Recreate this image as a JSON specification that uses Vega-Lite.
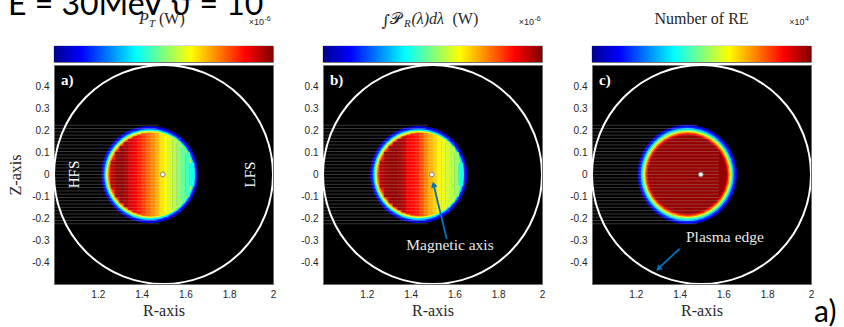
{
"$schema": "https://vega.github.io/schema/vega-lite/v6.json",
"padding": {"left": 7, "top": -12, "right": 0, "bottom": 0},
"config": {
  "font": "Liberation Sans",
  "view": {"stroke": null},
  "axis": {"labelFont": "Liberation Sans", "labelFontSize": 10, "labelColor": "#262626", "titleFont": "Liberation Serif", "titleFontSize": 16, "titleFontWeight": "normal", "titleColor": "#262626", "grid": false, "ticks": false, "domain": false, "labelFlush": false, "labelOverlap": false, "labelBound": false}
},
"datasets": {
  "cbar": [{"p": "a", "lo": 0, "hi": 2}, {"p": "b", "lo": 0, "hi": 1.476}, {"p": "c", "lo": 0, "hi": 6}],
  "rings": [
    {"p": "a", "r": 1.437, "z": 0, "rad": 0.222, "v": 0.16},
    {"p": "a", "r": 1.437, "z": 0, "rad": 0.214, "v": 0.34},
    {"p": "a", "r": 1.437, "z": 0, "rad": 0.207, "v": 0.72},
    {"p": "a", "r": 1.437, "z": 0, "rad": 0.2, "v": 1.2},
    {"p": "a", "r": 1.437, "z": 0, "rad": 0.192, "v": 1.5},
    {"p": "a", "r": 1.437, "z": 0, "rad": 0.185, "v": 1.74},
    {"p": "b", "r": 1.437, "z": 0, "rad": 0.222, "v": 0.118},
    {"p": "b", "r": 1.437, "z": 0, "rad": 0.214, "v": 0.251},
    {"p": "b", "r": 1.437, "z": 0, "rad": 0.207, "v": 0.531},
    {"p": "b", "r": 1.437, "z": 0, "rad": 0.2, "v": 0.886},
    {"p": "b", "r": 1.437, "z": 0, "rad": 0.192, "v": 1.107},
    {"p": "b", "r": 1.437, "z": 0, "rad": 0.185, "v": 1.284},
    {"p": "c", "r": 1.435, "z": 0, "rad": 0.227, "v": 0.48},
    {"p": "c", "r": 1.435, "z": 0, "rad": 0.219, "v": 1.02},
    {"p": "c", "r": 1.435, "z": 0, "rad": 0.212, "v": 1.98},
    {"p": "c", "r": 1.435, "z": 0, "rad": 0.206, "v": 2.7},
    {"p": "c", "r": 1.435, "z": 0, "rad": 0.2, "v": 3.6},
    {"p": "c", "r": 1.435, "z": 0, "rad": 0.194, "v": 4.5},
    {"p": "c", "r": 1.435, "z": 0, "rad": 0.188, "v": 5.22},
    {"p": "c", "r": 1.435, "z": 0, "rad": 0.181, "v": 5.88}
  ],
  "strips": [
    {"p": "a", "r": 1.26, "r2": 1.28, "z": -0.062, "z2": 0.062, "v": 1.9},
    {"p": "a", "r": 1.28, "r2": 1.3, "z": -0.103, "z2": 0.103, "v": 1.96},
    {"p": "a", "r": 1.3, "r2": 1.32, "z": -0.128, "z2": 0.128, "v": 1.97},
    {"p": "a", "r": 1.32, "r2": 1.34, "z": -0.147, "z2": 0.147, "v": 1.93},
    {"p": "a", "r": 1.34, "r2": 1.36, "z": -0.161, "z2": 0.161, "v": 1.82},
    {"p": "a", "r": 1.36, "r2": 1.38, "z": -0.172, "z2": 0.172, "v": 1.78},
    {"p": "a", "r": 1.38, "r2": 1.4, "z": -0.18, "z2": 0.18, "v": 1.7},
    {"p": "a", "r": 1.4, "r2": 1.42, "z": -0.185, "z2": 0.185, "v": 1.63},
    {"p": "a", "r": 1.42, "r2": 1.44, "z": -0.188, "z2": 0.188, "v": 1.55},
    {"p": "a", "r": 1.44, "r2": 1.46, "z": -0.189, "z2": 0.189, "v": 1.48},
    {"p": "a", "r": 1.46, "r2": 1.48, "z": -0.188, "z2": 0.188, "v": 1.4},
    {"p": "a", "r": 1.48, "r2": 1.5, "z": -0.185, "z2": 0.185, "v": 1.3},
    {"p": "a", "r": 1.5, "r2": 1.52, "z": -0.179, "z2": 0.179, "v": 1.25},
    {"p": "a", "r": 1.52, "r2": 1.54, "z": -0.171, "z2": 0.171, "v": 1.17},
    {"p": "a", "r": 1.54, "r2": 1.56, "z": -0.16, "z2": 0.16, "v": 1.1},
    {"p": "a", "r": 1.56, "r2": 1.58, "z": -0.146, "z2": 0.146, "v": 1.02},
    {"p": "a", "r": 1.58, "r2": 1.6, "z": -0.127, "z2": 0.127, "v": 0.95},
    {"p": "a", "r": 1.6, "r2": 1.62, "z": -0.1, "z2": 0.1, "v": 0.88},
    {"p": "a", "r": 1.62, "r2": 1.64, "z": -0.052, "z2": 0.052, "v": 0.8},
    {"p": "b", "r": 1.26, "r2": 1.28, "z": -0.062, "z2": 0.062, "v": 1.4},
    {"p": "b", "r": 1.28, "r2": 1.3, "z": -0.103, "z2": 0.103, "v": 1.44},
    {"p": "b", "r": 1.3, "r2": 1.32, "z": -0.128, "z2": 0.128, "v": 1.45},
    {"p": "b", "r": 1.32, "r2": 1.34, "z": -0.147, "z2": 0.147, "v": 1.45},
    {"p": "b", "r": 1.34, "r2": 1.36, "z": -0.161, "z2": 0.161, "v": 1.43},
    {"p": "b", "r": 1.36, "r2": 1.38, "z": -0.172, "z2": 0.172, "v": 1.4},
    {"p": "b", "r": 1.38, "r2": 1.4, "z": -0.18, "z2": 0.18, "v": 1.3},
    {"p": "b", "r": 1.4, "r2": 1.42, "z": -0.185, "z2": 0.185, "v": 1.28},
    {"p": "b", "r": 1.42, "r2": 1.44, "z": -0.188, "z2": 0.188, "v": 1.25},
    {"p": "b", "r": 1.44, "r2": 1.46, "z": -0.189, "z2": 0.189, "v": 1.18},
    {"p": "b", "r": 1.46, "r2": 1.48, "z": -0.188, "z2": 0.188, "v": 1.1},
    {"p": "b", "r": 1.48, "r2": 1.5, "z": -0.185, "z2": 0.185, "v": 1.03},
    {"p": "b", "r": 1.5, "r2": 1.52, "z": -0.179, "z2": 0.179, "v": 0.98},
    {"p": "b", "r": 1.52, "r2": 1.54, "z": -0.171, "z2": 0.171, "v": 0.93},
    {"p": "b", "r": 1.54, "r2": 1.56, "z": -0.16, "z2": 0.16, "v": 0.9},
    {"p": "b", "r": 1.56, "r2": 1.58, "z": -0.146, "z2": 0.146, "v": 0.86},
    {"p": "b", "r": 1.58, "r2": 1.6, "z": -0.127, "z2": 0.127, "v": 0.82},
    {"p": "b", "r": 1.6, "r2": 1.62, "z": -0.1, "z2": 0.1, "v": 0.76},
    {"p": "b", "r": 1.62, "r2": 1.64, "z": -0.052, "z2": 0.052, "v": 0.59}
  ],
  "lines": [
    {"r": 1, "r2": 1.48, "z": -0.225}, {"r": 1, "r2": 1.47, "z": -0.21}, {"r": 1, "r2": 1.48, "z": -0.195}, {"r": 1, "r2": 1.49, "z": -0.18},
    {"r": 1, "r2": 1.58, "z": -0.165}, {"r": 1, "r2": 1.58, "z": -0.15}, {"r": 1, "r2": 1.58, "z": -0.135}, {"r": 1, "r2": 1.58, "z": -0.12},
    {"r": 1, "r2": 1.58, "z": -0.105}, {"r": 1, "r2": 1.58, "z": -0.09}, {"r": 1, "r2": 1.58, "z": -0.075}, {"r": 1, "r2": 1.58, "z": -0.06},
    {"r": 1, "r2": 1.58, "z": -0.045}, {"r": 1, "r2": 1.58, "z": -0.03}, {"r": 1, "r2": 1.58, "z": -0.015}, {"r": 1, "r2": 1.58, "z": 0},
    {"r": 1, "r2": 1.58, "z": 0.015}, {"r": 1, "r2": 1.58, "z": 0.03}, {"r": 1, "r2": 1.58, "z": 0.045}, {"r": 1, "r2": 1.58, "z": 0.06},
    {"r": 1, "r2": 1.58, "z": 0.075}, {"r": 1, "r2": 1.58, "z": 0.09}, {"r": 1, "r2": 1.58, "z": 0.105}, {"r": 1, "r2": 1.58, "z": 0.12},
    {"r": 1, "r2": 1.58, "z": 0.135}, {"r": 1, "r2": 1.58, "z": 0.15}, {"r": 1, "r2": 1.58, "z": 0.165}, {"r": 1, "r2": 1.49, "z": 0.18},
    {"r": 1, "r2": 1.48, "z": 0.195}, {"r": 1, "r2": 1.47, "z": 0.21}, {"r": 1, "r2": 1.48, "z": 0.225}
  ],
  "edge": [{"r": 1.5, "z": 0, "rad": 0.5}],
  "dot": [{"r": 1.497, "z": 0}],
  "labels": [
    {"p": "a", "kind": "panel", "r": 1.032, "z": 0.41, "t": "a)"},
    {"p": "b", "kind": "panel", "r": 1.032, "z": 0.41, "t": "b)"},
    {"p": "c", "kind": "panel", "r": 1.032, "z": 0.41, "t": "c)"},
    {"p": "a", "kind": "side", "r": 1.091, "z": 0, "t": "HFS"},
    {"p": "a", "kind": "side", "r": 1.895, "z": 0, "t": "LFS"},
    {"p": "b", "kind": "note", "r": 1.58, "z": -0.345, "t": "Magnetic axis"},
    {"p": "c", "kind": "note", "r": 1.607, "z": -0.308, "t": "Plasma edge"},
    {"p": "c", "kind": "corner", "r": 2.0, "z": -0.5, "t": "a)"}
  ],
  "heading": [{"p": "a", "x": 0, "t": "E = 30MeV ϑ = 10"}],
  "arrows": [
    {"p": "b", "r": 1.565, "z": -0.296, "k": 0}, {"p": "b", "r": 1.504, "z": -0.042, "k": 1},
    {"p": "c", "r": 1.4, "z": -0.339, "k": 0}, {"p": "c", "r": 1.3, "z": -0.432, "k": 1}
  ],
  "heads": [{"p": "b", "r": 1.505, "z": -0.046}, {"p": "c", "r": 1.303, "z": -0.43}]
},
"hconcat": [
  {
    "vconcat": [
      {
        "width": 219, "height": 16,
        "view": {"stroke": "#262626", "strokeWidth": 0.8},
        "data": {"name": "cbar"},
        "transform": [{"filter": "datum.p == 'a'"}],
        "layer": [
          {"mark": {"type": "rect", "color": {"x1": 0, "y1": 0, "x2": 1, "y2": 0, "gradient": "linear", "stops": [{"offset": 0, "color": "#00008f"}, {"offset": 0.125, "color": "#0000ff"}, {"offset": 0.375, "color": "#00ffff"}, {"offset": 0.625, "color": "#ffff00"}, {"offset": 0.875, "color": "#ff0000"}, {"offset": 1, "color": "#800000"}]}},
           "encoding": {"x": {"field": "lo", "type": "quantitative", "scale": {"domain": [0, 2], "nice": false, "zero": false}, "axis": {"orient": "top", "values": [0, 0.5, 1, 1.5, 2], "labelExpr": "'' + datum.value", "title": null, "labelPadding": 4}},
                        "x2": {"field": "hi"},
                        "y": {"datum": 0, "type": "quantitative", "scale": {"domain": [0, 1], "nice": false}, "axis": null},
                        "y2": {"datum": 1}}},
          {"data": {"name": "heading"},
           "mark": {"type": "text", "font": "Lato", "fontSize": 32, "fill": "#000000", "align": "left", "baseline": "alphabetic", "dx": -46, "dy": -31},
           "encoding": {"x": {"field": "x", "type": "quantitative", "axis": null}, "y": {"datum": 1, "type": "quantitative", "axis": null}, "text": {"field": "t"}}},
          {"mark": {"type": "text", "text": "P", "font": "Liberation Serif", "fontStyle": "italic", "fontSize": 16, "align": "left", "baseline": "alphabetic", "dx": -24.5, "dy": -22, "fill": "#262626"},
           "encoding": {"x": {"datum": 1, "type": "quantitative", "axis": null}, "y": {"datum": 1, "type": "quantitative", "axis": null}}},
          {"mark": {"type": "text", "text": "T", "font": "Liberation Serif", "fontStyle": "italic", "fontSize": 11, "align": "left", "baseline": "alphabetic", "dx": -14.5, "dy": -19, "fill": "#262626"},
           "encoding": {"x": {"datum": 1, "type": "quantitative", "axis": null}, "y": {"datum": 1, "type": "quantitative", "axis": null}}},
          {"mark": {"type": "text", "text": "(W)", "font": "Liberation Serif", "fontSize": 16, "align": "left", "baseline": "alphabetic", "dx": -4.5, "dy": -22, "fill": "#262626"},
           "encoding": {"x": {"datum": 1, "type": "quantitative", "axis": null}, "y": {"datum": 1, "type": "quantitative", "axis": null}}},
          {"mark": {"type": "text", "text": "×10", "font": "Liberation Sans", "fontSize": 9, "align": "right", "baseline": "alphabetic", "dx": -9, "dy": -21, "fill": "#262626"},
           "encoding": {"x": {"datum": 2, "type": "quantitative", "axis": null}, "y": {"datum": 1, "type": "quantitative", "axis": null}}},
          {"mark": {"type": "text", "text": "-6", "font": "Liberation Sans", "fontSize": 7, "align": "left", "baseline": "alphabetic", "dx": -8.5, "dy": -25, "fill": "#262626"},
           "encoding": {"x": {"datum": 2, "type": "quantitative", "axis": null}, "y": {"datum": 1, "type": "quantitative", "axis": null}}}
        ]
      },
      {
        "width": 219, "height": 219,
        "view": {"fill": "#000000", "stroke": "#6e6e6e", "strokeWidth": 1},
        "encoding": {
          "x": {"field": "r", "type": "quantitative", "scale": {"domain": [1, 2], "nice": false, "zero": false}, "axis": {"values": [1.2, 1.4, 1.6, 1.8, 2], "labelExpr": "'' + datum.value", "title": "R-axis", "labelPadding": 5, "titlePadding": 3}},
          "y": {"field": "z", "type": "quantitative", "scale": {"domain": [-0.5, 0.5], "nice": false, "zero": false}, "axis": {"values": [-0.4, -0.3, -0.2, -0.1, 0, 0.1, 0.2, 0.3, 0.4], "labelExpr": "'' + datum.value", "title": "Z-axis", "labelPadding": 5, "titlePadding": 8}}
        },
        "layer": [
          {"data": {"name": "rings"}, "transform": [{"filter": "datum.p == 'a'"}],
           "mark": {"type": "point", "shape": "circle", "filled": true, "opacity": 1, "strokeWidth": 0},
           "encoding": {"size": {"field": "rad", "type": "quantitative", "scale": {"type": "pow", "exponent": 2, "domain": [0, 0.5], "range": [0, 47961]}, "legend": null},
                        "color": {"field": "v", "type": "quantitative", "scale": {"domain": [0, 0.25, 0.75, 1.25, 1.75, 2], "range": ["#00008f", "#0000ff", "#00ffff", "#ffff00", "#ff0000", "#800000"], "interpolate": "rgb"}, "legend": null},
                        "order": {"field": "rad", "sort": "descending"}}},
          {"data": {"name": "strips"}, "transform": [{"filter": "datum.p == 'a'"}],
           "mark": {"type": "rect", "strokeWidth": 0.4},
           "encoding": {"x2": {"field": "r2"}, "y2": {"field": "z2"},
                        "color": {"field": "v", "type": "quantitative", "scale": {"domain": [0, 0.25, 0.75, 1.25, 1.75, 2], "range": ["#00008f", "#0000ff", "#00ffff", "#ffff00", "#ff0000", "#800000"], "interpolate": "rgb"}, "legend": null},
                        "stroke": {"field": "v", "type": "quantitative", "scale": {"domain": [0, 0.25, 0.75, 1.25, 1.75, 2], "range": ["#00008f", "#0000ff", "#00ffff", "#ffff00", "#ff0000", "#800000"], "interpolate": "rgb"}, "legend": null}}},
          {"data": {"name": "lines"}, "mark": {"type": "rule", "color": "#d0d0d0", "strokeWidth": 0.6, "opacity": 0.45}, "encoding": {"x2": {"field": "r2"}}},
          {"data": {"name": "edge"}, "mark": {"type": "point", "shape": "circle", "filled": false, "color": "#ffffff", "strokeWidth": 2, "opacity": 1, "clip": true},
           "encoding": {"size": {"field": "rad", "type": "quantitative", "scale": {"type": "pow", "exponent": 2, "domain": [0, 0.5], "range": [0, 47961]}, "legend": null}}},
          {"data": {"name": "dot"}, "mark": {"type": "point", "shape": "circle", "filled": true, "color": "#ffffff", "stroke": "#808080", "strokeWidth": 1, "size": 22, "opacity": 1}},
          {"data": {"name": "labels"}, "transform": [{"filter": "datum.p == 'a' && datum.kind == 'panel'"}],
           "mark": {"type": "text", "font": "Liberation Serif", "fontWeight": "bold", "fontSize": 15, "fill": "#ffffff", "align": "left", "baseline": "alphabetic"},
           "encoding": {"text": {"field": "t"}}},
          {"data": {"name": "labels"}, "transform": [{"filter": "datum.p == 'a' && datum.kind == 'side'"}],
           "mark": {"type": "text", "font": "Liberation Serif", "fontSize": 15, "fill": "#ffffff", "align": "center", "baseline": "middle", "angle": 270},
           "encoding": {"text": {"field": "t"}}}
        ]
      }
    ],
    "spacing": 3,
    "bounds": "flush"
  },
  {
    "vconcat": [
      {
        "width": 219, "height": 16,
        "view": {"stroke": "#262626", "strokeWidth": 0.8},
        "data": {"name": "cbar"},
        "transform": [{"filter": "datum.p == 'b'"}],
        "layer": [
          {"mark": {"type": "rect", "color": {"x1": 0, "y1": 0, "x2": 1, "y2": 0, "gradient": "linear", "stops": [{"offset": 0, "color": "#00008f"}, {"offset": 0.125, "color": "#0000ff"}, {"offset": 0.375, "color": "#00ffff"}, {"offset": 0.625, "color": "#ffff00"}, {"offset": 0.875, "color": "#ff0000"}, {"offset": 1, "color": "#800000"}]}},
           "encoding": {"x": {"field": "lo", "type": "quantitative", "scale": {"domain": [0, 1.476], "nice": false, "zero": false}, "axis": {"orient": "top", "values": [0, 0.5, 1], "labelExpr": "'' + datum.value", "title": null, "labelPadding": 4}},
                        "x2": {"field": "hi"},
                        "y": {"datum": 0, "type": "quantitative", "scale": {"domain": [0, 1], "nice": false}, "axis": null},
                        "y2": {"datum": 1}}},
          {"mark": {"type": "text", "text": "∫", "font": "DejaVu Serif", "fontSize": 16, "align": "left", "baseline": "alphabetic", "dx": -51, "dy": -20, "fill": "#262626"},
           "encoding": {"x": {"datum": 0.738, "type": "quantitative", "axis": null}, "y": {"datum": 1, "type": "quantitative", "axis": null}}},
          {"mark": {"type": "text", "text": "𝒫", "font": "Liberation Serif", "fontSize": 16, "align": "left", "baseline": "alphabetic", "dx": -42.5, "dy": -22, "fill": "#262626"},
           "encoding": {"x": {"datum": 0.738, "type": "quantitative", "axis": null}, "y": {"datum": 1, "type": "quantitative", "axis": null}}},
          {"mark": {"type": "text", "text": "R", "font": "Liberation Serif", "fontStyle": "italic", "fontSize": 11, "align": "left", "baseline": "alphabetic", "dx": -28.5, "dy": -19, "fill": "#262626"},
           "encoding": {"x": {"datum": 0.738, "type": "quantitative", "axis": null}, "y": {"datum": 1, "type": "quantitative", "axis": null}}},
          {"mark": {"type": "text", "text": "(λ)dλ", "font": "Liberation Serif", "fontStyle": "italic", "fontSize": 16, "align": "left", "baseline": "alphabetic", "dx": -21, "dy": -22, "fill": "#262626"},
           "encoding": {"x": {"datum": 0.738, "type": "quantitative", "axis": null}, "y": {"datum": 1, "type": "quantitative", "axis": null}}},
          {"mark": {"type": "text", "text": "(W)", "font": "Liberation Serif", "fontSize": 16, "align": "left", "baseline": "alphabetic", "dx": 20, "dy": -22, "fill": "#262626"},
           "encoding": {"x": {"datum": 0.738, "type": "quantitative", "axis": null}, "y": {"datum": 1, "type": "quantitative", "axis": null}}},
          {"mark": {"type": "text", "text": "×10", "font": "Liberation Sans", "fontSize": 9, "align": "right", "baseline": "alphabetic", "dx": -8, "dy": -21, "fill": "#262626"},
           "encoding": {"x": {"datum": 1.476, "type": "quantitative", "axis": null}, "y": {"datum": 1, "type": "quantitative", "axis": null}}},
          {"mark": {"type": "text", "text": "-6", "font": "Liberation Sans", "fontSize": 7, "align": "left", "baseline": "alphabetic", "dx": -7.5, "dy": -25, "fill": "#262626"},
           "encoding": {"x": {"datum": 1.476, "type": "quantitative", "axis": null}, "y": {"datum": 1, "type": "quantitative", "axis": null}}}
        ]
      },
      {
        "width": 219, "height": 219,
        "view": {"fill": "#000000", "stroke": "#6e6e6e", "strokeWidth": 1},
        "encoding": {
          "x": {"field": "r", "type": "quantitative", "scale": {"domain": [1, 2], "nice": false, "zero": false}, "axis": {"values": [1.2, 1.4, 1.6, 1.8, 2], "labelExpr": "'' + datum.value", "title": "R-axis", "labelPadding": 5, "titlePadding": 3}},
          "y": {"field": "z", "type": "quantitative", "scale": {"domain": [-0.5, 0.5], "nice": false, "zero": false}, "axis": {"values": [-0.4, -0.3, -0.2, -0.1, 0, 0.1, 0.2, 0.3, 0.4], "labelExpr": "'' + datum.value", "title": null, "labelPadding": 5}}
        },
        "layer": [
          {"data": {"name": "rings"}, "transform": [{"filter": "datum.p == 'b'"}],
           "mark": {"type": "point", "shape": "circle", "filled": true, "opacity": 1, "strokeWidth": 0},
           "encoding": {"size": {"field": "rad", "type": "quantitative", "scale": {"type": "pow", "exponent": 2, "domain": [0, 0.5], "range": [0, 47961]}, "legend": null},
                        "color": {"field": "v", "type": "quantitative", "scale": {"domain": [0, 0.1845, 0.5535, 0.9225, 1.2915, 1.476], "range": ["#00008f", "#0000ff", "#00ffff", "#ffff00", "#ff0000", "#800000"], "interpolate": "rgb"}, "legend": null},
                        "order": {"field": "rad", "sort": "descending"}}},
          {"data": {"name": "strips"}, "transform": [{"filter": "datum.p == 'b'"}],
           "mark": {"type": "rect", "strokeWidth": 0.4},
           "encoding": {"x2": {"field": "r2"}, "y2": {"field": "z2"},
                        "color": {"field": "v", "type": "quantitative", "scale": {"domain": [0, 0.1845, 0.5535, 0.9225, 1.2915, 1.476], "range": ["#00008f", "#0000ff", "#00ffff", "#ffff00", "#ff0000", "#800000"], "interpolate": "rgb"}, "legend": null},
                        "stroke": {"field": "v", "type": "quantitative", "scale": {"domain": [0, 0.1845, 0.5535, 0.9225, 1.2915, 1.476], "range": ["#00008f", "#0000ff", "#00ffff", "#ffff00", "#ff0000", "#800000"], "interpolate": "rgb"}, "legend": null}}},
          {"data": {"name": "lines"}, "mark": {"type": "rule", "color": "#d0d0d0", "strokeWidth": 0.6, "opacity": 0.45}, "encoding": {"x2": {"field": "r2"}}},
          {"data": {"name": "edge"}, "mark": {"type": "point", "shape": "circle", "filled": false, "color": "#ffffff", "strokeWidth": 2, "opacity": 1, "clip": true},
           "encoding": {"size": {"field": "rad", "type": "quantitative", "scale": {"type": "pow", "exponent": 2, "domain": [0, 0.5], "range": [0, 47961]}, "legend": null}}},
          {"data": {"name": "dot"}, "mark": {"type": "point", "shape": "circle", "filled": true, "color": "#ffffff", "stroke": "#808080", "strokeWidth": 1, "size": 22, "opacity": 1}},
          {"data": {"name": "labels"}, "transform": [{"filter": "datum.p == 'b' && datum.kind == 'panel'"}],
           "mark": {"type": "text", "font": "Liberation Serif", "fontWeight": "bold", "fontSize": 15, "fill": "#ffffff", "align": "left", "baseline": "alphabetic"},
           "encoding": {"text": {"field": "t"}}},
          {"data": {"name": "labels"}, "transform": [{"filter": "datum.p == 'b' && datum.kind == 'note'"}],
           "mark": {"type": "text", "font": "Liberation Serif", "fontSize": 15.5, "fill": "#e8e8e8", "align": "center", "baseline": "alphabetic"},
           "encoding": {"text": {"field": "t"}}},
          {"data": {"name": "arrows"}, "transform": [{"filter": "datum.p == 'b'"}],
           "mark": {"type": "line", "color": "#0072BD", "strokeWidth": 1.8},
           "encoding": {"order": {"field": "k"}}},
          {"data": {"name": "heads"}, "transform": [{"filter": "datum.p == 'b'"}],
           "mark": {"type": "point", "shape": "triangle-up", "filled": true, "color": "#0072BD", "size": 45, "angle": 346, "opacity": 1}}
        ]
      }
    ],
    "spacing": 3,
    "bounds": "flush"
  },
  {
    "vconcat": [
      {
        "width": 219, "height": 16,
        "view": {"stroke": "#262626", "strokeWidth": 0.8},
        "data": {"name": "cbar"},
        "transform": [{"filter": "datum.p == 'c'"}],
        "layer": [
          {"mark": {"type": "rect", "color": {"x1": 0, "y1": 0, "x2": 1, "y2": 0, "gradient": "linear", "stops": [{"offset": 0, "color": "#00008f"}, {"offset": 0.125, "color": "#0000ff"}, {"offset": 0.375, "color": "#00ffff"}, {"offset": 0.625, "color": "#ffff00"}, {"offset": 0.875, "color": "#ff0000"}, {"offset": 1, "color": "#800000"}]}},
           "encoding": {"x": {"field": "lo", "type": "quantitative", "scale": {"domain": [0, 6], "nice": false, "zero": false}, "axis": {"orient": "top", "values": [0, 1, 2, 3, 4, 5], "labelExpr": "'' + datum.value", "title": null, "labelPadding": 4}},
                        "x2": {"field": "hi"},
                        "y": {"datum": 0, "type": "quantitative", "scale": {"domain": [0, 1], "nice": false}, "axis": null},
                        "y2": {"datum": 1}}},
          {"mark": {"type": "text", "text": "Number of RE", "font": "Liberation Serif", "fontSize": 16, "align": "center", "baseline": "alphabetic", "dx": 0, "dy": -22, "fill": "#262626"},
           "encoding": {"x": {"datum": 3, "type": "quantitative", "axis": null}, "y": {"datum": 1, "type": "quantitative", "axis": null}}},
          {"mark": {"type": "text", "text": "×10", "font": "Liberation Sans", "fontSize": 9, "align": "right", "baseline": "alphabetic", "dx": -6.5, "dy": -21, "fill": "#262626"},
           "encoding": {"x": {"datum": 6, "type": "quantitative", "axis": null}, "y": {"datum": 1, "type": "quantitative", "axis": null}}},
          {"mark": {"type": "text", "text": "4", "font": "Liberation Sans", "fontSize": 7, "align": "left", "baseline": "alphabetic", "dx": -6, "dy": -25, "fill": "#262626"},
           "encoding": {"x": {"datum": 6, "type": "quantitative", "axis": null}, "y": {"datum": 1, "type": "quantitative", "axis": null}}}
        ]
      },
      {
        "width": 219, "height": 219,
        "view": {"fill": "#000000", "stroke": "#6e6e6e", "strokeWidth": 1},
        "encoding": {
          "x": {"field": "r", "type": "quantitative", "scale": {"domain": [1, 2], "nice": false, "zero": false}, "axis": {"values": [1.2, 1.4, 1.6, 1.8, 2], "labelExpr": "'' + datum.value", "title": "R-axis", "labelPadding": 5, "titlePadding": 3}},
          "y": {"field": "z", "type": "quantitative", "scale": {"domain": [-0.5, 0.5], "nice": false, "zero": false}, "axis": {"values": [-0.4, -0.3, -0.2, -0.1, 0, 0.1, 0.2, 0.3, 0.4], "labelExpr": "'' + datum.value", "title": null, "labelPadding": 5}}
        },
        "layer": [
          {"data": {"name": "rings"}, "transform": [{"filter": "datum.p == 'c'"}],
           "mark": {"type": "point", "shape": "circle", "filled": true, "opacity": 1, "strokeWidth": 0},
           "encoding": {"size": {"field": "rad", "type": "quantitative", "scale": {"type": "pow", "exponent": 2, "domain": [0, 0.5], "range": [0, 47961]}, "legend": null},
                        "color": {"field": "v", "type": "quantitative", "scale": {"domain": [0, 0.75, 2.25, 3.75, 5.25, 6], "range": ["#00008f", "#0000ff", "#00ffff", "#ffff00", "#ff0000", "#800000"], "interpolate": "rgb"}, "legend": null},
                        "order": {"field": "rad", "sort": "descending"}}},
          {"data": {"name": "lines"}, "mark": {"type": "rule", "color": "#d0d0d0", "strokeWidth": 0.6, "opacity": 0.45}, "encoding": {"x2": {"field": "r2"}}},
          {"data": {"name": "edge"}, "mark": {"type": "point", "shape": "circle", "filled": false, "color": "#ffffff", "strokeWidth": 2, "opacity": 1, "clip": true},
           "encoding": {"size": {"field": "rad", "type": "quantitative", "scale": {"type": "pow", "exponent": 2, "domain": [0, 0.5], "range": [0, 47961]}, "legend": null}}},
          {"data": {"name": "dot"}, "mark": {"type": "point", "shape": "circle", "filled": true, "color": "#ffffff", "stroke": "#808080", "strokeWidth": 1, "size": 22, "opacity": 1}},
          {"data": {"name": "labels"}, "transform": [{"filter": "datum.p == 'c' && datum.kind == 'panel'"}],
           "mark": {"type": "text", "font": "Liberation Serif", "fontWeight": "bold", "fontSize": 15, "fill": "#ffffff", "align": "left", "baseline": "alphabetic"},
           "encoding": {"text": {"field": "t"}}},
          {"data": {"name": "labels"}, "transform": [{"filter": "datum.p == 'c' && datum.kind == 'note'"}],
           "mark": {"type": "text", "font": "Liberation Serif", "fontSize": 15.5, "fill": "#e8e8e8", "align": "center", "baseline": "alphabetic"},
           "encoding": {"text": {"field": "t"}}},
          {"data": {"name": "arrows"}, "transform": [{"filter": "datum.p == 'c'"}],
           "mark": {"type": "line", "color": "#0072BD", "strokeWidth": 1.8},
           "encoding": {"order": {"field": "k"}}},
          {"data": {"name": "heads"}, "transform": [{"filter": "datum.p == 'c'"}],
           "mark": {"type": "point", "shape": "triangle-up", "filled": true, "color": "#0072BD", "size": 45, "angle": 227, "opacity": 1}},
          {"data": {"name": "labels"}, "transform": [{"filter": "datum.p == 'c' && datum.kind == 'corner'"}],
           "mark": {"type": "text", "font": "Lato", "fontSize": 30, "fill": "#000000", "align": "left", "baseline": "alphabetic", "dx": 3, "dy": 38},
           "encoding": {"text": {"field": "t"}}}
        ]
      }
    ],
    "spacing": 3,
    "bounds": "flush"
  }
],
"spacing": 23,
"resolve": {"scale": {"color": "independent", "stroke": "independent"}}
}
